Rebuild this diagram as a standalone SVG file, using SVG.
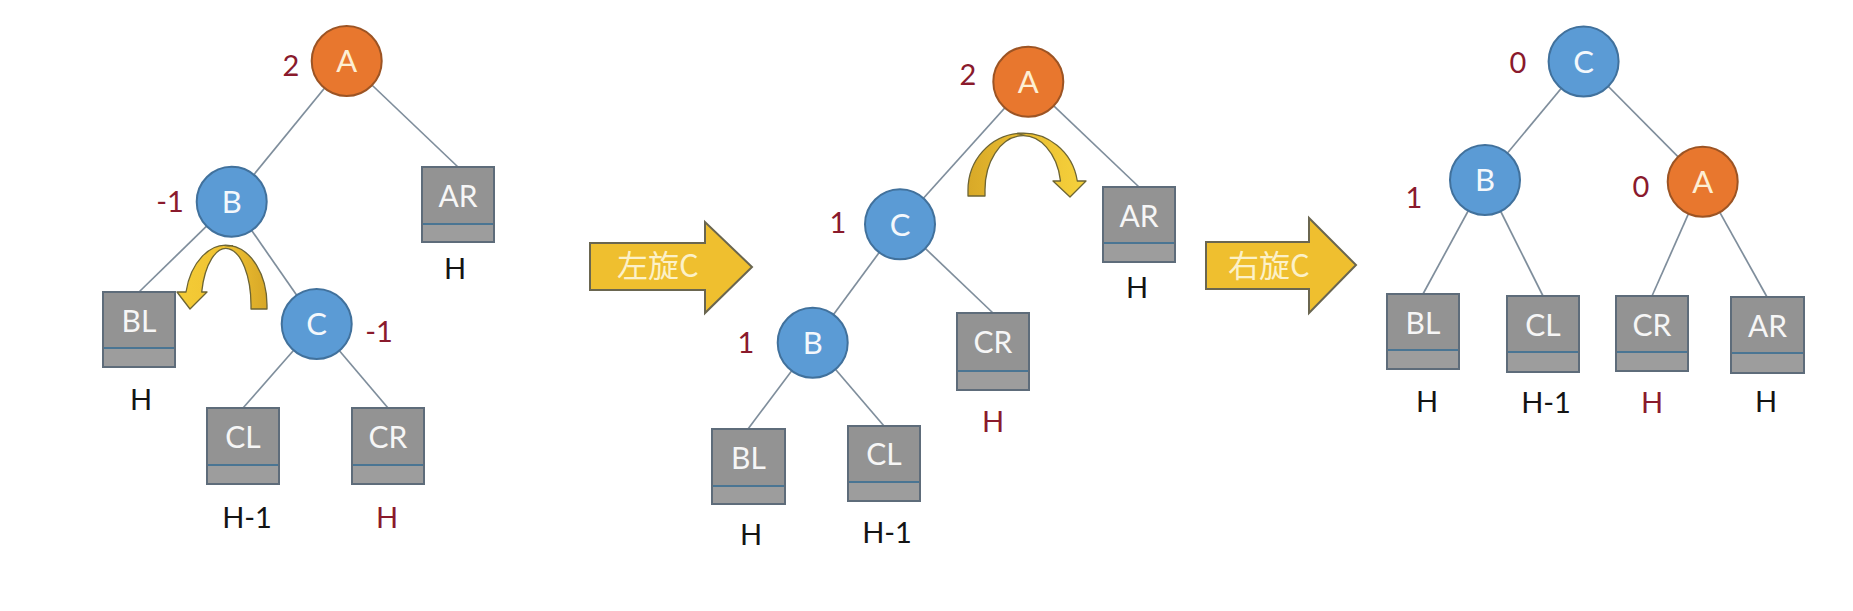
<svg xmlns="http://www.w3.org/2000/svg" width="1853" height="611" viewBox="0 0 1853 611">
<style>
.edge{stroke:#7f8e9c;stroke-width:1.7;fill:none}
.blue{fill:#5b9bd5;stroke:#41719c;stroke-width:2}
.orange{fill:#e8772e;stroke:#9c5424;stroke-width:2}
.ltr{font-family:Lato,"Open Sans",sans-serif;font-size:31px;fill:#f4f8fc;text-anchor:middle}
.ltrA{fill:#fdefd4}
.box{fill:#939393;stroke:#5e6c7a;stroke-width:2}
.boxlow{fill:#9d9d9d}
.div{stroke:#4a7593;stroke-width:2}
.blabel{font-family:Lato,"Open Sans",sans-serif;font-size:30px;fill:#f6f6f6;text-anchor:middle}
.bf{font-family:Lato,"Open Sans",sans-serif;font-size:29px;fill:#8a1a2c;text-anchor:middle}
.hb{font-family:Lato,"Open Sans",sans-serif;font-size:29px;fill:#141414;text-anchor:middle}
.hr{fill:#8a1a2c}
.big{fill:#efbf2f;stroke:#6a6650;stroke-width:2;stroke-linejoin:miter}
.bigt{font-family:"Noto Sans CJK SC","Noto Sans",sans-serif;font-size:31px;fill:#fcf1c8;text-anchor:middle}
.curv{stroke:#6c6434;stroke-width:1.3;stroke-linejoin:round}
</style>
<defs>
<linearGradient id="g1" x1="0" y1="0" x2="1" y2="0">
<stop offset="0" stop-color="#f4cc36"/><stop offset="0.55" stop-color="#f0c232"/><stop offset="1" stop-color="#d7a727"/>
</linearGradient>
<linearGradient id="g2" x1="0" y1="0" x2="1" y2="0">
<stop offset="0" stop-color="#d8a928"/><stop offset="0.45" stop-color="#eabd31"/><stop offset="1" stop-color="#f6d23c"/>
</linearGradient>
</defs>
<rect width="1853" height="611" fill="#ffffff"/>

<g id="connectors">
<line class="edge" x1="346.7" y1="61" x2="231.7" y2="201.7"/>
<line class="edge" x1="346.7" y1="61" x2="458" y2="167"/>
<line class="edge" x1="231.7" y1="201.7" x2="139" y2="292"/>
<line class="edge" x1="231.7" y1="201.7" x2="316.7" y2="324"/>
<line class="edge" x1="316.7" y1="324" x2="243" y2="408"/>
<line class="edge" x1="316.7" y1="324" x2="388" y2="408"/>
<line class="edge" x1="1028.3" y1="81.7" x2="900" y2="224.3"/>
<line class="edge" x1="1028.3" y1="81.7" x2="1139" y2="187"/>
<line class="edge" x1="900" y1="224.3" x2="812.7" y2="342.7"/>
<line class="edge" x1="900" y1="224.3" x2="993" y2="313"/>
<line class="edge" x1="812.7" y1="342.7" x2="748" y2="429"/>
<line class="edge" x1="812.7" y1="342.7" x2="884" y2="426"/>
<line class="edge" x1="1583.6" y1="61.5" x2="1485" y2="180"/>
<line class="edge" x1="1583.6" y1="61.5" x2="1702.7" y2="181.7"/>
<line class="edge" x1="1485" y1="180" x2="1423" y2="294"/>
<line class="edge" x1="1485" y1="180" x2="1543" y2="296"/>
<line class="edge" x1="1702.7" y1="181.7" x2="1652" y2="296"/>
<line class="edge" x1="1702.7" y1="181.7" x2="1767" y2="297"/>
</g>

<!-- Tree 1 -->
<g id="t1-A"><circle class="orange" cx="346.7" cy="61" r="35"/><text class="ltr ltrA" x="346.7" y="72">A</text><text class="bf" x="291" y="76">2</text></g>
<g id="t1-B"><circle class="blue" cx="231.7" cy="201.7" r="35"/><text class="ltr" x="231.7" y="213">B</text><text class="bf" x="170" y="212">-1</text></g>
<g id="t1-C"><circle class="blue" cx="316.7" cy="324" r="35"/><text class="ltr" x="316.7" y="335">C</text><text class="bf" x="379" y="342">-1</text></g>
<g id="t1-BL"><rect class="box" x="103" y="292" width="72" height="75"/><rect class="boxlow" x="104" y="348" width="70" height="18"/><line class="div" x1="104" y1="348" x2="174" y2="348"/><text class="blabel" x="139" y="332">BL</text><text class="hb" x="141" y="410">H</text></g>
<g id="t1-CL"><rect class="box" x="207" y="408" width="72" height="76"/><rect class="boxlow" x="208" y="465" width="70" height="18"/><line class="div" x1="208" y1="465" x2="278" y2="465"/><text class="blabel" x="243" y="448">CL</text><text class="hb" x="247" y="528">H-1</text></g>
<g id="t1-CR"><rect class="box" x="352" y="408" width="72" height="76"/><rect class="boxlow" x="353" y="465" width="70" height="18"/><line class="div" x1="353" y1="465" x2="423" y2="465"/><text class="blabel" x="388" y="448">CR</text><text class="hb hr" x="387" y="528">H</text></g>
<g id="t1-AR"><rect class="box" x="422" y="167" width="72" height="75"/><rect class="boxlow" x="423" y="224" width="70" height="17"/><line class="div" x1="423" y1="224" x2="493" y2="224"/><text class="blabel" x="458" y="207">AR</text><text class="hb" x="455" y="279">H</text></g>
<g id="t1-rot">
<path class="curv" fill="url(#g1)" d="M251 309 L267 309 L267 305 A41 60 0 0 0 186 292 L177 292 L190 309 L207 292 L201.7 292 A25 57 0 0 1 251 305 Z"/>
<path d="M224 245.5 Q229 247 233 245.5" stroke="#6c6434" stroke-width="1" fill="none"/>
</g>

<!-- Arrow 1 -->
<g id="arrow-left">
<polygon class="big" points="590,243 705,243 705,222 752,267 705,313 705,290 590,290"/>
<text class="bigt" x="658" y="277">左旋C</text>
</g>

<!-- Tree 2 -->
<g id="t2-A"><circle class="orange" cx="1028.3" cy="81.7" r="35"/><text class="ltr ltrA" x="1028.3" y="93">A</text><text class="bf" x="968" y="85">2</text></g>
<g id="t2-C"><circle class="blue" cx="900" cy="224.3" r="35"/><text class="ltr" x="900" y="236">C</text><text class="bf" x="838" y="233">1</text></g>
<g id="t2-B"><circle class="blue" cx="812.7" cy="342.7" r="35"/><text class="ltr" x="812.7" y="354">B</text><text class="bf" x="746" y="353">1</text></g>
<g id="t2-BL"><rect class="box" x="712" y="429" width="73" height="75"/><rect class="boxlow" x="713" y="486" width="71" height="17"/><line class="div" x1="713" y1="486" x2="784" y2="486"/><text class="blabel" x="748.5" y="469">BL</text><text class="hb" x="751" y="545">H</text></g>
<g id="t2-CL"><rect class="box" x="848" y="426" width="72" height="75"/><rect class="boxlow" x="849" y="482" width="70" height="18"/><line class="div" x1="849" y1="482" x2="919" y2="482"/><text class="blabel" x="884" y="465">CL</text><text class="hb" x="887" y="543">H-1</text></g>
<g id="t2-CR"><rect class="box" x="957" y="313" width="72" height="77"/><rect class="boxlow" x="958" y="371" width="70" height="18"/><line class="div" x1="958" y1="371" x2="1028" y2="371"/><text class="blabel" x="993" y="353">CR</text><text class="hb hr" x="993" y="432">H</text></g>
<g id="t2-AR"><rect class="box" x="1103" y="187" width="72" height="75"/><rect class="boxlow" x="1104" y="243" width="70" height="18"/><line class="div" x1="1104" y1="243" x2="1174" y2="243"/><text class="blabel" x="1139" y="227">AR</text><text class="hb" x="1137" y="298">H</text></g>
<g id="t2-rot">
<path class="curv" fill="url(#g2)" d="M985 196 L968 196 L968 190 A55 57 0 0 1 1077.3 181 L1086 181 L1070 197 L1053 181 L1060.5 181 A38 54 0 0 0 985 190 Z"/>
<path d="M1016 133.5 Q1021 135.5 1026 133.5" stroke="#6c6434" stroke-width="1" fill="none"/>
</g>

<!-- Arrow 2 -->
<g id="arrow-right">
<polygon class="big" points="1206,242 1309,242 1309,218 1356,265 1309,313 1309,289 1206,289"/>
<text class="bigt" x="1269" y="277">右旋C</text>
</g>

<!-- Tree 3 -->
<g id="t3-C"><circle class="blue" cx="1583.6" cy="61.5" r="35"/><text class="ltr" x="1583.6" y="73">C</text><text class="bf" x="1518" y="73">0</text></g>
<g id="t3-B"><circle class="blue" cx="1485" cy="180" r="35"/><text class="ltr" x="1485" y="191">B</text><text class="bf" x="1414" y="208">1</text></g>
<g id="t3-A"><circle class="orange" cx="1702.7" cy="181.7" r="35"/><text class="ltr ltrA" x="1702.7" y="193">A</text><text class="bf" x="1641" y="197">0</text></g>
<g id="t3-BL"><rect class="box" x="1387" y="294" width="72" height="75"/><rect class="boxlow" x="1388" y="350" width="70" height="18"/><line class="div" x1="1388" y1="350" x2="1458" y2="350"/><text class="blabel" x="1423" y="334">BL</text><text class="hb" x="1427" y="412">H</text></g>
<g id="t3-CL"><rect class="box" x="1507" y="296" width="72" height="76"/><rect class="boxlow" x="1508" y="352" width="70" height="19"/><line class="div" x1="1508" y1="352" x2="1578" y2="352"/><text class="blabel" x="1543" y="336">CL</text><text class="hb" x="1546" y="413">H-1</text></g>
<g id="t3-CR"><rect class="box" x="1616" y="296" width="72" height="75"/><rect class="boxlow" x="1617" y="352" width="70" height="18"/><line class="div" x1="1617" y1="352" x2="1687" y2="352"/><text class="blabel" x="1652" y="336">CR</text><text class="hb hr" x="1652" y="413">H</text></g>
<g id="t3-AR"><rect class="box" x="1731" y="297" width="73" height="76"/><rect class="boxlow" x="1732" y="353" width="71" height="19"/><line class="div" x1="1732" y1="353" x2="1803" y2="353"/><text class="blabel" x="1767.5" y="337">AR</text><text class="hb" x="1766" y="412">H</text></g>
</svg>
